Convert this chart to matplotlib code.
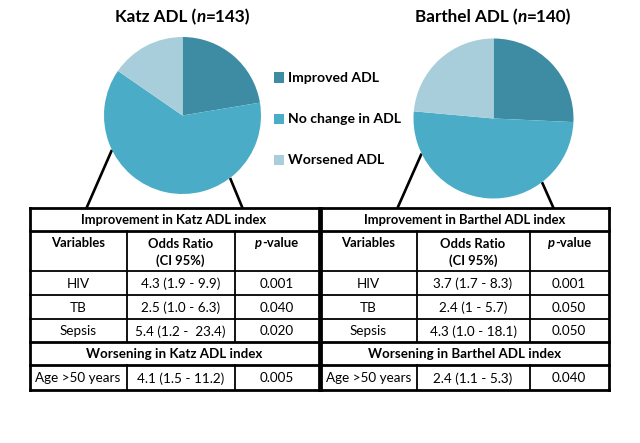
import matplotlib.pyplot as plt
from matplotlib import font_manager as fm
import numpy as np

# pick a family that really has a bold face
FAMILY = 'DejaVu Sans'
for fam in ['Lato', 'Open Sans', 'Noto Sans', 'Roboto']:
    reg = fm.findfont(fm.FontProperties(family=fam), fallback_to_default=False)
    bold = fm.findfont(fm.FontProperties(family=fam, weight='bold'),
                       fallback_to_default=False)
    if reg != bold:
        FAMILY = fam
        break
plt.rcParams['font.family'] = [FAMILY, 'DejaVu Sans']

# pie data (counts of patients)
categories = ['Improved ADL', 'No change in ADL', 'Worsened ADL']
katz_counts = [32, 89, 22]
barthel_counts = [36, 71, 33]
colors = ['#3d8ca3', '#4aacc6', '#a8cedc']

# table data
col_headers = ['Variables', 'Odds Ratio\n(CI 95%)', 'p', '-value']
improve_vars = ['HIV', 'TB', 'Sepsis']
katz_or = ['4.3 (1.9 - 9.9)', '2.5 (1.0 - 6.3)', '5.4 (1.2 -  23.4)']
katz_p = ['0.001', '0.040', '0.020']
barthel_or = ['3.7 (1.7 - 8.3)', '2.4 (1 - 5.7)', '4.3 (1.0 - 18.1)']
barthel_p = ['0.001', '0.050', '0.050']
worse_var = 'Age >50 years'
katz_worse = ['4.1 (1.5 - 11.2)', '0.005']
barthel_worse = ['2.4 (1.1 - 5.3)', '0.040']

W, H = 640, 443
fig = plt.figure(figsize=(W / 100, H / 100), dpi=100)
ax = fig.add_axes([0, 0, 1, 1])
ax.set_xlim(0, W)
ax.set_ylim(0, H)
R = fig.canvas.get_renderer()


def Y(y):
    # pixel row (from top) -> data y
    return H - y


def width_px(s, **kw):
    t = ax.text(0, 0, s, fontsize=10, **kw)
    w = t.get_window_extent(R).width
    t.remove()
    return w


def fit(s, target, **kw):
    return 10 * target / width_px(s, **kw)


# font sizes fitted to the widths measured on the reference
fs_title = fit('Katz ADL (n=143)', 135, fontweight='bold')
fs_leg = fit('Improved ADL', 91, fontweight='bold')
fs_cell = fit('4.3 (1.9 - 9.9)', 79)
fs_head = fit('Improvement in Katz ADL index', 185, fontweight='bold')
DY = 1.2  # text sits a little low in the reference cells


def rich_text(xc, y, parts, fs):
    # parts: (text, style) pieces placed side by side, centred on xc
    widths = [width_px(p, fontweight='bold', fontstyle=st) * fs / 10
              for p, st in parts]
    x = xc - sum(widths) / 2
    for (p, st), w in zip(parts, widths):
        ax.text(x, y, p, ha='left', va='center', fontsize=fs,
                fontweight='bold', fontstyle=st)
        x += w


def draw_pie(counts, cx, cy, r, name, n):
    ax.pie(counts, colors=colors, startangle=90, counterclock=False,
           center=(cx, Y(cy)), radius=r, wedgeprops=dict(linewidth=0))
    rich_text(cx, Y(17), [(f'{name} ADL (', 'normal'), ('n', 'italic'),
                          (f'={n})', 'normal')], fs_title)
    # connector lines from the pie edge down to the table
    for ang, x_end in [(206, cx - 96), (-52.7, cx + 60)]:
        a = np.radians(ang)
        x0 = cx + r * np.cos(a)
        y0 = cy - r * np.sin(a)
        ax.plot([x0, x_end], [Y(y0), Y(208)], color='black', lw=1.9,
                zorder=0, solid_capstyle='butt')


draw_pie(katz_counts, 182.5, 115.5, 78.5, 'Katz', 143)
draw_pie(barthel_counts, 493.5, 118.5, 80, 'Barthel', 140)

# legend
for lab, c, yc in zip(categories, colors, [77.5, 119, 160]):
    ax.add_patch(plt.Rectangle((273.5, Y(yc + 5)), 10.5, 10.5, color=c, lw=0))
    ax.text(287.5, Y(yc), lab, ha='left', va='center', fontsize=fs_leg,
            fontweight='bold')

# tables
rows = [208, 230.5, 271, 295, 318.5, 342, 364.5, 390]


def draw_table(x_cols, name, ors, ps, worse):
    x0, x1 = x_cols[0], x_cols[-1]
    k = dict(color='black', solid_capstyle='projecting')
    for i, y in enumerate(rows):
        lw = 2.0 if i in (0, 1, 5, 6, 7) else 1.3
        ax.plot([x0, x1], [Y(y), Y(y)], lw=lw, **k)
    for x in (x0, x1):
        ax.plot([x, x], [Y(rows[0]), Y(rows[-1])], lw=2.0, **k)
    for x in x_cols[1:-1]:
        ax.plot([x, x], [Y(rows[1]), Y(rows[5])], lw=1.3, **k)
        ax.plot([x, x], [Y(rows[6]), Y(rows[7])], lw=1.3, **k)
    mid = [(a + b) / 2 for a, b in zip(x_cols[:-1], x_cols[1:])]

    def cell_y(i):
        return Y((rows[i] + rows[i + 1]) / 2 + DY)

    ax.text((x0 + x1) / 2, cell_y(0), f'Improvement in {name} ADL index',
            ha='center', va='center', fontsize=fs_head, fontweight='bold')
    ax.text(mid[0], Y(243), col_headers[0], ha='center', va='center',
            fontsize=fs_head, fontweight='bold')
    ax.text(mid[1], Y(252.5), col_headers[1], ha='center', va='center',
            fontsize=fs_head, fontweight='bold', linespacing=1.35)
    rich_text(mid[2], Y(243), [(col_headers[2], 'italic'),
                               (col_headers[3], 'normal')], fs_head)
    for j, (v, o, p) in enumerate(zip(improve_vars, ors, ps)):
        for m, t in zip(mid, (v, o, p)):
            ax.text(m, cell_y(2 + j), t, ha='center', va='center',
                    fontsize=fs_cell)
    ax.text((x0 + x1) / 2, cell_y(5), f'Worsening in {name} ADL index',
            ha='center', va='center', fontsize=fs_head * 1.03,
            fontweight='bold')
    for m, t in zip(mid, (worse_var, worse[0], worse[1])):
        ax.text(m, cell_y(6), t, ha='center', va='center', fontsize=fs_cell)


draw_table([29.5, 126.5, 234.5, 318.5], 'Katz', katz_or, katz_p, katz_worse)
draw_table([320.5, 416.5, 529.5, 609], 'Barthel', barthel_or, barthel_p,
           barthel_worse)

ax.set_xlim(0, W)
ax.set_ylim(0, H)
ax.set_aspect('auto')
ax.axis('off')
fig.savefig('out.png', dpi=100, facecolor='white')
